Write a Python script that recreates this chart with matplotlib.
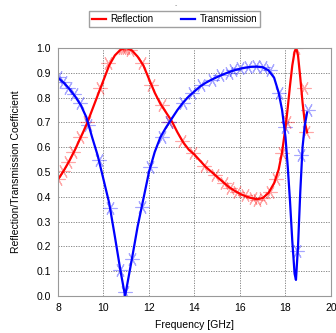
import numpy as np
import matplotlib
matplotlib.use("Agg")
import matplotlib.pyplot as plt

plt.rcParams["font.family"] = ["Liberation Sans", "DejaVu Sans"]

# smooth curves
refl_f = [8.0, 8.25, 8.5, 8.75, 9.0, 9.25, 9.5, 9.75, 10.0, 10.25, 10.5, 10.75,
          11.0, 11.25, 11.5, 11.75, 12.0, 12.25, 12.5, 12.75, 13.0, 13.25, 13.5,
          13.75, 14.0, 14.25, 14.5, 14.75, 15.0, 15.25, 15.5, 15.75, 16.0, 16.25,
          16.5, 16.75, 17.0, 17.25, 17.5, 17.7, 17.85, 18.0, 18.1, 18.2, 18.3,
          18.4, 18.47, 18.55, 18.65, 18.75, 18.85, 18.95]
refl_v = [0.47, 0.505, 0.545, 0.59, 0.64, 0.69, 0.75, 0.81, 0.87, 0.93, 0.97,
          0.993, 1.0, 0.99, 0.965, 0.93, 0.875, 0.82, 0.775, 0.74, 0.705, 0.66,
          0.62, 0.59, 0.57, 0.545, 0.52, 0.5, 0.48, 0.46, 0.44, 0.425, 0.412,
          0.402, 0.395, 0.39, 0.395, 0.415, 0.455, 0.51, 0.58, 0.68, 0.76, 0.85,
          0.93, 0.985, 1.0, 0.97, 0.88, 0.78, 0.70, 0.66]

trans_f = [8.0, 8.25, 8.5, 8.75, 9.0, 9.25, 9.5, 9.75, 10.0, 10.25, 10.5, 10.75,
           10.95, 11.25, 11.5, 11.75, 12.0, 12.25, 12.5, 12.75, 13.0, 13.25, 13.5,
           13.75, 14.0, 14.25, 14.5, 14.75, 15.0, 15.25, 15.5, 15.75, 16.0, 16.25,
           16.5, 16.75, 17.0, 17.25, 17.5, 17.7, 17.85, 18.0, 18.1, 18.2, 18.3,
           18.4, 18.46, 18.55, 18.65, 18.75, 18.85, 18.95]
trans_v = [0.88, 0.86, 0.835, 0.805, 0.77, 0.72, 0.64, 0.565, 0.47, 0.375, 0.24,
           0.10, 0.0, 0.15, 0.28, 0.39, 0.50, 0.58, 0.64, 0.68, 0.715, 0.75, 0.78,
           0.805, 0.825, 0.845, 0.86, 0.872, 0.883, 0.893, 0.902, 0.91, 0.916,
           0.921, 0.924, 0.925, 0.922, 0.91, 0.88, 0.82, 0.75, 0.64, 0.52, 0.38,
           0.22, 0.09, 0.065, 0.2, 0.42, 0.6, 0.69, 0.74]

# simulated points (asterisk markers)
refl_pts_f = [8.0, 8.22, 8.44, 8.67, 8.97, 9.29, 9.85, 10.2, 10.8, 10.9, 11.0,
              11.16, 11.7, 12.1, 12.55, 12.9, 13.45, 13.93, 14.42, 14.9, 15.3,
              15.56, 15.87, 16.2, 16.57, 16.75, 17.0, 17.3, 17.58, 17.85, 18.05,
              18.45, 18.8, 18.9]
refl_pts_v = [0.47, 0.504, 0.54, 0.58, 0.64, 0.70, 0.84, 0.94, 1.0, 1.0, 1.0,
              0.99, 0.94, 0.85, 0.77, 0.70, 0.625, 0.576, 0.524, 0.487, 0.455,
              0.436, 0.42, 0.407, 0.395, 0.387, 0.395, 0.42, 0.47, 0.576, 0.70,
              1.0, 0.84, 0.66]

trans_pts_f = [8.0, 8.22, 8.44, 8.7, 8.97, 9.3, 9.8, 10.3, 10.73, 10.95, 11.25,
               11.7, 12.05, 12.57, 12.9, 13.5, 13.9, 14.3, 14.75, 15.1, 15.5,
               15.7, 16.0, 16.35, 16.7, 17.0, 17.3, 17.7, 17.98, 18.5, 18.7, 18.99]
trans_pts_v = [0.883, 0.863, 0.84, 0.815, 0.78, 0.69, 0.55, 0.355, 0.105, 0.016,
               0.15, 0.36, 0.52, 0.64, 0.70, 0.78, 0.82, 0.85, 0.87, 0.89, 0.90,
               0.91, 0.92, 0.925, 0.927, 0.925, 0.91, 0.82, 0.68, 0.18, 0.57, 0.75]

x_ticks = [8, 10, 12, 14, 16, 18, 20]
y_ticks = [0.0, 0.1, 0.2, 0.3, 0.4, 0.5, 0.6, 0.7, 0.8, 0.9, 1.0]

RED = "#ff0000"
BLUE = "#0000ff"
star = (6, 2, 30)

fig = plt.figure(figsize=(3.36, 3.33), dpi=100)
ax = fig.add_axes([0.1726, 0.111, 0.8125, 0.745])

ax.plot(refl_pts_f, refl_pts_v, linestyle="none", marker=star, markersize=10,
        markeredgecolor=RED, markeredgewidth=0.8, alpha=0.35)
ax.plot(trans_pts_f, trans_pts_v, linestyle="none", marker=star, markersize=10,
        markeredgecolor=BLUE, markeredgewidth=0.8, alpha=0.35)
l1, = ax.plot(refl_f, refl_v, color=RED, lw=1.6, label="Reflection")
l2, = ax.plot(trans_f, trans_v, color=BLUE, lw=1.6, label="Transmission")

ax.set_xlim(8, 20)
ax.set_ylim(0, 1.0)
ax.set_xticks(x_ticks)
ax.set_yticks(y_ticks)
ax.set_yticklabels([f"{v:.1f}" for v in y_ticks])
ax.tick_params(length=0, labelsize=7.5, pad=5)
ax.grid(True, color="#777777", linestyle=(0, (1.5, 1.5)), linewidth=0.6)
for s in ax.spines.values():
    s.set_color("#999999")
    s.set_linewidth(0.8)

ax.set_xlabel("Frequency [GHz]", fontsize=7.5, labelpad=5)
ax.set_ylabel("Reflection/Transmission Coefficient", fontsize=7.5, labelpad=11)

fig.legend(handles=[l1, l2], loc="center", bbox_to_anchor=(0.52, 0.942),
           ncol=2, fontsize=7, frameon=True, fancybox=False, edgecolor="#888888",
           handlelength=1.4, columnspacing=2.8, borderpad=0.3,
           handletextpad=0.5)
fig.text(0.524, 0.977, "-", fontsize=5, color="#888888", ha="center")

fig.savefig("out.png", dpi=100)
